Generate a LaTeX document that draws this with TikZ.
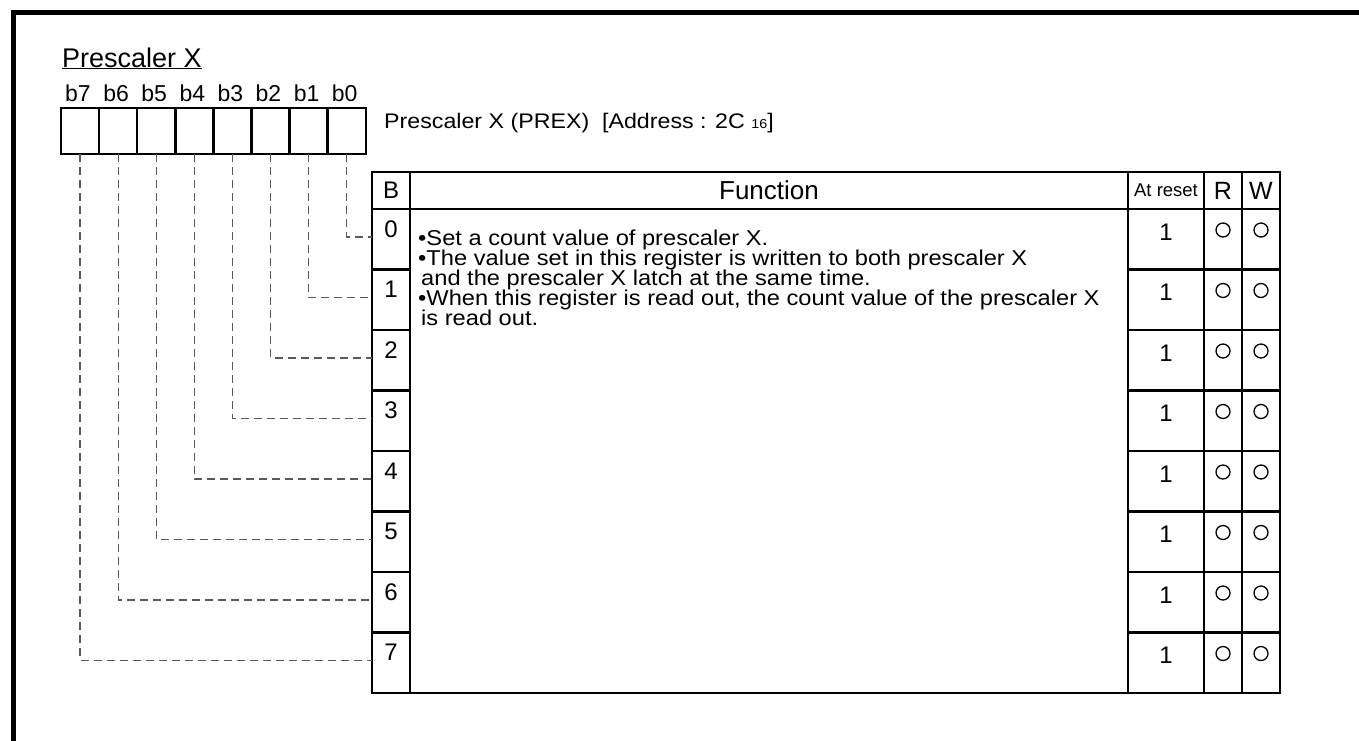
\documentclass[tikz,border=0pt]{standalone}
\usepackage{fontspec}
\setmainfont{Liberation Sans}
\newfontfamily\widefont[FakeStretch=1.1]{Liberation Sans}
\newcommand{\fsz}[1]{\fontsize{#1}{#1}\selectfont}
\begin{document}
\begin{tikzpicture}[x=1pt,y=-1pt,
  frameline/.style={line width=5pt},
  regcell/.style={draw,line width=2.5pt,minimum width=38.1pt,minimum height=46pt,inner sep=0pt,outer sep=0pt,anchor=north west},
  tcell/.style={draw,line width=2.5pt,inner sep=0pt,outer sep=0pt,anchor=north west},
  dashline/.style={draw=black!65,line width=1.3pt,dash pattern=on 8pt off 5pt},
  rwmark/.style={circle,draw,line width=1.3pt,minimum size=14pt,inner sep=0pt},
  txt/.style={inner sep=0pt},
]
\useasboundingbox (0,0) rectangle (1359,740);
\fill[white] (0,0) rectangle (1359,740);
\draw[frameline] (13.5,745) -- (13.5,12.5) -- (1365,12.5);

\node[txt,anchor=base west,font=\fsz{27}] (title) at (62,67) {\underline{Prescaler X}};
\node[txt,anchor=base west,font=\widefont\fsz{21.1}] (addr) at (384,128) {Prescaler X (PREX)\ \ [Address : 2C {\fsz{13}16}]};

\foreach \k in {0,...,7} {
  \pgfmathtruncatemacro\bit{7-\k}
  \node[regcell] (r\bit) at ({61+38.1*\k},108) {};
  \node[txt,anchor=base,font=\fsz{23}] (bl\bit) at ({78+38.1*\k},101) {b\bit};
}

\node[tcell,minimum width=38pt,minimum height=37pt,font=\fsz{24}] (hB) at (372,172) {B};
\node[tcell,minimum width=718pt,minimum height=37pt,font=\fsz{26}] (hF) at (410,172) {Function};
\node[tcell,minimum width=76pt,minimum height=37pt,font=\fsz{18.5}] (hA) at (1128,172) {At reset};
\node[tcell,minimum width=38pt,minimum height=37pt,font=\fsz{25}] (hR) at (1204,172) {R};
\node[tcell,minimum width=38pt,minimum height=37pt,font=\fsz{25}] (hW) at (1242,172) {W};
\node[tcell,minimum width=718pt,minimum height=484pt] (fn) at (410,209) {};

\foreach \i in {0,...,7} {
  \pgfmathsetmacro\rt{209+60.5*\i}
  \node[tcell,minimum width=38pt,minimum height=60.5pt] (b\i) at (372,\rt) {};
  \node[tcell,minimum width=76pt,minimum height=60.5pt] (a\i) at (1128,\rt) {};
  \node[tcell,minimum width=38pt,minimum height=60.5pt] (rr\i) at (1204,\rt) {};
  \node[tcell,minimum width=38pt,minimum height=60.5pt] (ww\i) at (1242,\rt) {};
  \node[txt,font=\fsz{24}] (bn\i) at (391,{\rt+20}) {\i};
  \node[txt,font=\fsz{24}] (av\i) at (1166,{\rt+23}) {1};
  \node[rwmark] (rm\i) at (1223,{\rt+21}) {};
  \node[rwmark] (wm\i) at (1261,{\rt+21}) {};
  \draw[dashline] (r\i.south) |- ([yshift=-28pt]b\i.north west);
}

\node[txt,anchor=north west,align=left,font={\widefont\fontsize{21.5}{20}\selectfont\lineskiplimit=-40pt}] (body) at (418,230) {%
•Set a count value of prescaler X.\\
•The value set in this register is written to both prescaler X\\
\hspace*{3pt}and the prescaler X latch at the same time.\\
•When this register is read out, the count value of the prescaler X\\
\hspace*{3pt}is read out.};
\end{tikzpicture}
\end{document}
